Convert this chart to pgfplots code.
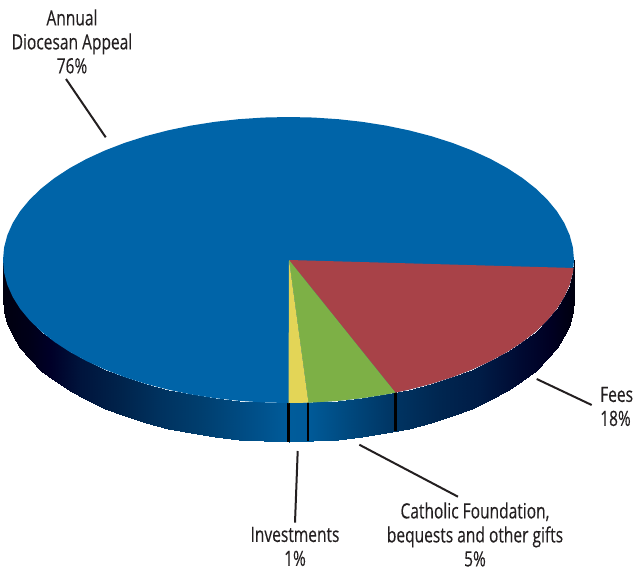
\documentclass[border=0pt]{standalone}
\usepackage{pgfplots}
\usepackage{fontspec}
\setmainfont[FakeStretch=0.74,FakeBold=0.25]{Open Sans}
\pgfplotsset{compat=1.18}
\definecolor{pieblue}{RGB}{0,100,168}
\definecolor{piered}{RGB}{168,66,72}
\definecolor{piegreen}{RGB}{125,176,70}
\definecolor{pieyellow}{RGB}{227,213,87}
\definecolor{ink}{RGB}{35,31,32}
\begin{document}
\begin{tikzpicture}
\begin{axis}[
  scale only axis, width=634pt, height=570pt,
  xmin=0, xmax=634, ymin=0, ymax=570, y dir=reverse,
  hide axis, clip=false,
  colormap={side}{
    rgb255(0.03cm)=(0,0,15);
    rgb255(0.30cm)=(0,0,25);
    rgb255(0.50cm)=(0,0,40);
    rgb255(0.80cm)=(0,20,60);
    rgb255(1.20cm)=(0,35,75);
    rgb255(1.60cm)=(0,50,95);
    rgb255(2.00cm)=(0,62,110);
    rgb255(2.50cm)=(0,78,135);
    rgb255(2.90cm)=(0,92,155);
    rgb255(3.10cm)=(0,90,152);
    rgb255(3.50cm)=(0,72,125);
    rgb255(3.95cm)=(0,52,98);
    rgb255(4.40cm)=(0,38,80);
    rgb255(4.80cm)=(0,28,70);
    rgb255(5.20cm)=(0,10,50);
    rgb255(5.50cm)=(0,0,35);
    rgb255(5.74cm)=(0,0,15)
  },
  colormap name=side,
]
% side band
\addplot[surf, shader=interp, mesh/rows=2, mesh/ordering=x varies, point meta=x, point meta min=3, point meta max=574] table {
x y
574.00 260.00
572.91 272.46
569.66 284.83
564.27 297.01
556.78 308.91
547.25 320.43
535.75 331.50
522.37 342.02
507.21 351.92
490.38 361.12
472.02 369.54
452.26 377.14
431.25 383.84
409.16 389.60
386.15 394.38
362.39 398.13
338.08 400.83
313.38 402.46
288.50 403.00
263.62 402.46
238.92 400.83
214.61 398.13
190.85 394.38
167.84 389.60
145.75 383.84
124.74 377.14
104.98 369.54
86.62 361.12
69.79 351.92
54.63 342.02
41.25 331.50
29.75 320.43
20.22 308.91
12.73 297.01
7.34 284.83
4.09 272.46
3.00 260.00
574.00 299.00
572.91 311.46
569.66 323.83
564.27 336.01
556.78 347.91
547.25 359.43
535.75 370.50
522.37 381.02
507.21 390.92
490.38 400.12
472.02 408.54
452.26 416.14
431.25 422.84
409.16 428.60
386.15 433.38
362.39 437.13
338.08 439.83
313.38 441.46
288.50 442.00
263.62 441.46
238.92 439.83
214.61 437.13
190.85 433.38
167.84 428.60
145.75 422.84
124.74 416.14
104.98 408.54
86.62 400.12
69.79 390.92
54.63 381.02
41.25 370.50
29.75 359.43
20.22 347.91
12.73 336.01
7.34 323.83
4.09 311.46
3.00 299.00
};
% dividers on the side
\addplot[draw=black, line width=2.4pt] coordinates {(288.4,402) (288.4,441.5)};
\addplot[draw=black, line width=2.4pt] coordinates {(308.2,402) (308.2,441.2)};
\addplot[draw=black, line width=2.4pt] coordinates {(395.6,391) (395.6,430.8)};
% top: whole disc
\addplot[fill=pieblue, draw=none] coordinates {
(574.00,260.00)(572.91,272.46)(569.66,284.83)(564.27,297.01)(556.78,308.91)(547.25,320.43)
(535.75,331.50)(522.37,342.02)(507.21,351.92)(490.38,361.12)(472.02,369.54)(452.26,377.14)
(431.25,383.84)(409.16,389.60)(386.15,394.38)(362.39,398.13)(338.08,400.83)(313.38,402.46)
(288.50,403.00)(263.62,402.46)(238.92,400.83)(214.61,398.13)(190.85,394.38)(167.84,389.60)
(145.75,383.84)(124.74,377.14)(104.98,369.54)(86.62,361.12)(69.79,351.92)(54.63,342.02)
(41.25,331.50)(29.75,320.43)(20.22,308.91)(12.73,297.01)(7.34,284.83)(4.09,272.46)
(3.00,260.00)(4.09,247.54)(7.34,235.17)(12.73,222.99)(20.22,211.09)(29.75,199.57)
(41.25,188.50)(54.63,177.98)(69.79,168.08)(86.62,158.88)(104.98,150.46)(124.74,142.86)
(145.75,136.16)(167.84,130.40)(190.85,125.62)(214.61,121.87)(238.92,119.17)(263.62,117.54)
(288.50,117.00)(313.38,117.54)(338.08,119.17)(362.39,121.87)(386.15,125.62)(409.16,130.40)
(431.25,136.16)(452.26,142.86)(472.02,150.46)(490.38,158.88)(507.21,168.08)(522.37,177.98)
(535.75,188.50)(547.25,199.57)(556.78,211.09)(564.27,222.99)(569.66,235.17)(572.91,247.54)
} -- cycle;
% Fees
\addplot[fill=piered, draw=none] coordinates {
(289,260)(573.55,267.98)(572.91,272.46)(569.66,284.83)(564.27,297.01)(556.78,308.91)(547.25,320.43)
(535.75,331.50)(522.37,342.02)(507.21,351.92)(490.38,361.12)(472.02,369.54)(452.26,377.14)
(431.25,383.84)(409.16,389.60)(395.45,392.59)
} -- cycle;
% Catholic Foundation
\addplot[fill=piegreen, draw=none] coordinates {
(289,260)(395.45,392.59)(386.15,394.38)(362.39,398.13)(338.08,400.83)(313.38,402.46)(308.42,402.65)
} -- cycle;
% Investments
\addplot[fill=pieyellow, draw=none] coordinates {
(289,260)(308.42,402.65)(288.50,403.00)
} -- cycle;
% leaders
\addplot[draw=ink, line width=2pt] coordinates {(66,79) (105.7,137.3)};
\addplot[draw=ink, line width=2pt] coordinates {(536.7,379) (591.7,405)};
\addplot[draw=ink, line width=2pt] coordinates {(297.7,451) (295,522.7)};
\addplot[draw=ink, line width=2pt] coordinates {(359.3,444.7) (458,496.7)};
% labels
\node[text=ink, align=center, inner sep=0pt, font=\fontsize{21}{24}\selectfont] at (axis cs:72,41.5) {Annual\\Diocesan Appeal\\76\%};
\node[text=ink, align=left, anchor=west, inner sep=0pt, font=\fontsize{21}{24}\selectfont] at (axis cs:600,406.5) {Fees\\18\%};
\node[text=ink, align=center, inner sep=0pt, font=\fontsize{21}{24}\selectfont] at (axis cs:295,546.5) {Investments\\1\%};
\node[text=ink, align=center, inner sep=0pt, font=\fontsize{21}{24}\selectfont] at (axis cs:475,534.5) {Catholic Foundation,\\bequests and other gifts\\5\%};
\end{axis}
\pgfresetboundingbox
\path[use as bounding box] (0,0) rectangle (634pt,570pt);
\end{tikzpicture}
\end{document}
